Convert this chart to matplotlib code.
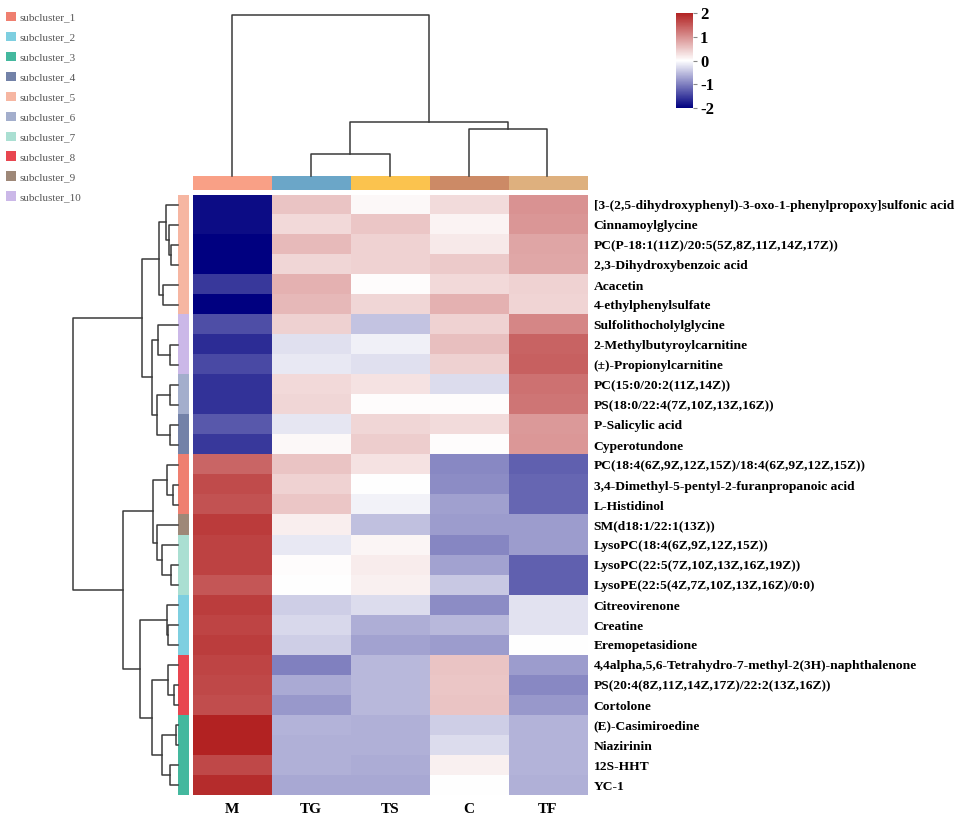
import matplotlib
matplotlib.use("Agg")
import matplotlib.pyplot as plt
import numpy as np
from matplotlib.colors import LinearSegmentedColormap, ListedColormap
from matplotlib.patches import Patch

plt.rcParams['font.family'] = ['Liberation Serif', 'DejaVu Serif']
plt.rcParams['axes.unicode_minus'] = False

# ---- data ----
groups = ['M', 'TG', 'TS', 'C', 'TF']
metabolites = [
    '[3-(2,5-dihydroxyphenyl)-3-oxo-1-phenylpropoxy]sulfonic acid',
    'Cinnamoylglycine',
    'PC(P-18:1(11Z)/20:5(5Z,8Z,11Z,14Z,17Z))',
    '2,3-Dihydroxybenzoic acid',
    'Acacetin',
    '4-ethylphenylsulfate',
    'Sulfolithocholylglycine',
    '2-Methylbutyroylcarnitine',
    '(\u00b1)-Propionylcarnitine',
    'PC(15:0/20:2(11Z,14Z))',
    'PS(18:0/22:4(7Z,10Z,13Z,16Z))',
    'P-Salicylic acid',
    'Cyperotundone',
    'PC(18:4(6Z,9Z,12Z,15Z)/18:4(6Z,9Z,12Z,15Z))',
    '3,4-Dimethyl-5-pentyl-2-furanpropanoic acid',
    'L-Histidinol',
    'SM(d18:1/22:1(13Z))',
    'LysoPC(18:4(6Z,9Z,12Z,15Z))',
    'LysoPC(22:5(7Z,10Z,13Z,16Z,19Z))',
    'LysoPE(22:5(4Z,7Z,10Z,13Z,16Z)/0:0)',
    'Citreovirenone',
    'Creatine',
    'Eremopetasidione',
    '4,4alpha,5,6-Tetrahydro-7-methyl-2(3H)-naphthalenone',
    'PS(20:4(8Z,11Z,14Z,17Z)/22:2(13Z,16Z))',
    'Cortolone',
    '(E)-Casimiroedine',
    'Niazirinin',
    '12S-HHT',
    'YC-1',
]

# scaled abundance, one list per group (same order as metabolites)
val_M = [-1.9, -1.9, -2.0, -2.0, -1.55, -2.0, -1.39, -1.65, -1.42, -1.6,
         -1.6, -1.3, -1.56, 1.38, 1.62, 1.55, 1.76, 1.7, 1.7, 1.52,
         1.74, 1.68, 1.74, 1.68, 1.65, 1.6, 2.0, 2.0, 1.65, 1.9]
val_TG = [0.53, 0.34, 0.62, 0.37, 0.7, 0.64, 0.42, -0.24, -0.18, 0.34,
          0.37, -0.2, 0.05, 0.53, 0.4, 0.5, 0.15, -0.18, 0.03, 0.01,
          -0.38, -0.3, -0.38, -1.0, -0.66, -0.8, -0.59, -0.62, -0.62, -0.68]
val_TS = [0.05, 0.5, 0.4, 0.4, 0.02, 0.36, -0.46, -0.12, -0.24, 0.25,
          0.02, 0.37, 0.45, 0.25, 0.0, -0.1, -0.5, 0.08, 0.17, 0.14,
          -0.27, -0.63, -0.72, -0.55, -0.55, -0.55, -0.62, -0.62, -0.65, -0.68]
val_C = [0.32, 0.1, 0.2, 0.47, 0.33, 0.7, 0.4, 0.57, 0.42, -0.27,
         0.02, 0.32, 0.02, -0.93, -0.9, -0.75, -0.78, -0.95, -0.72, -0.43,
         -0.9, -0.55, -0.78, 0.53, 0.5, 0.53, -0.38, -0.28, 0.14, 0.0]
val_TF = [0.97, 0.95, 0.8, 0.79, 0.4, 0.38, 1.08, 1.4, 1.43, 1.27,
          1.24, 0.92, 0.93, -1.25, -1.2, -1.2, -0.78, -0.78, -1.25, -1.25,
          -0.22, -0.22, 0.0, -0.78, -0.93, -0.8, -0.59, -0.59, -0.59, -0.62]

# subcluster of each row (1..10)
row_cluster = [5, 5, 5, 5, 5, 5, 10, 10, 10, 6, 6, 4, 4, 1, 1, 1, 9, 7, 7, 7,
               2, 2, 2, 8, 8, 8, 3, 3, 3, 3]
cluster_names = ['subcluster_%d' % i for i in range(1, 11)]
cluster_colors = ['#EF7F70', '#7ECFE0', '#44B89E', '#7382A8', '#F6B6A2',
                  '#A3AECC', '#AADFD2', '#E84650', '#9E8878', '#CBB8E8']
group_colors = ['#F9A086', '#6BA6C8', '#FBC34E', '#CC8A66', '#DEB07E']

# dendrogram merges: (child a, child b, height); leaves are 0..n-1, new nodes n, n+1, ...
row_links = [
    (2, 3, 7), (1, 30, 9), (0, 31, 12), (4, 5, 14.7), (32, 33, 18.7),
    (7, 8, 8), (6, 35, 19.7), (9, 10, 8), (11, 12, 8), (37, 38, 21.3),
    (36, 39, 26.3), (34, 40, 36.3),
    (14, 15, 4.7), (13, 42, 10.7), (18, 19, 7.3), (17, 44, 16.3), (16, 45, 21.3),
    (43, 46, 24.7), (21, 22, 9.7), (20, 48, 11.3), (24, 25, 4), (23, 50, 9.7),
    (26, 27, 2), (28, 29, 8), (52, 53, 16.3), (51, 54, 26.3), (49, 55, 38),
    (47, 56, 54.7), (41, 57, 105.3),
]
col_links = [(1, 2, 22), (3, 4, 47), (5, 6, 54), (0, 7, 160)]

data = np.array([val_M, val_TG, val_TS, val_C, val_TF]).T

W, H = 957, 822
fig = plt.figure(figsize=(W / 100, H / 100), dpi=100)


def px(x0, y0, x1, y1):
    return [x0 / W, 1 - y1 / H, (x1 - x0) / W, (y1 - y0) / H]


def draw_dendro(ax, links, n, side):
    pos = {i: float(i) for i in range(n)}
    hgt = {i: 0.0 for i in range(n)}
    for k, (a, b, h) in enumerate(links):
        p = [pos[a], pos[a], pos[b], pos[b]]
        q = [hgt[a], h, h, hgt[b]]
        if side == 'top':
            ax.plot(p, q, color='#3a3a3a', lw=1.1, clip_on=False)
        else:
            ax.plot(q, p, color='#3a3a3a', lw=1.1, clip_on=False)
        pos[n + k] = (pos[a] + pos[b]) / 2
        hgt[n + k] = h
    ax.axis('off')


cmap = LinearSegmentedColormap.from_list('bwr2', ['#000080', '#ffffff', '#B22222'])

# heatmap
ax = fig.add_axes(px(192.7, 195, 586.7, 795))
im = ax.imshow(data, cmap=cmap, vmin=-2, vmax=2, aspect='auto', interpolation='nearest')
ax.set_xticks(range(len(groups)))
ax.set_xticklabels(groups, fontsize=11, fontweight='bold')
ax.set_yticks(range(len(metabolites)))
ax.set_yticklabels(metabolites, fontsize=9.7, fontweight='bold')
ax.yaxis.tick_right()
ax.tick_params(length=0, pad=5)
ax.tick_params(axis='x', pad=6)
for s in ax.spines.values():
    s.set_visible(False)

# column color bar
axc = fig.add_axes(px(192.7, 176, 586.7, 190))
axc.imshow(np.arange(len(groups))[None, :], cmap=ListedColormap(group_colors),
           aspect='auto', interpolation='nearest')
axc.axis('off')

# row color bar
axr = fig.add_axes(px(178, 195, 189, 795))
axr.imshow(np.array(row_cluster)[:, None] - 1, cmap=ListedColormap(cluster_colors),
           vmin=0, vmax=9, aspect='auto', interpolation='nearest')
axr.axis('off')

# dendrograms
axtd = fig.add_axes(px(192.7, 15, 586.7, 176))
draw_dendro(axtd, col_links, len(groups), 'top')
axtd.set_xlim(-0.5, len(groups) - 0.5)
axtd.set_ylim(0, 160)

axld = fig.add_axes(px(72.7, 195, 178, 795))
draw_dendro(axld, row_links, len(metabolites), 'left')
axld.set_xlim(105.3, 0)
axld.set_ylim(len(metabolites) - 0.5, -0.5)

# colour scale
cax = fig.add_axes(px(676, 13, 693, 108))
cb = fig.colorbar(im, cax=cax, ticks=[-2, -1, 0, 1, 2])
cb.outline.set_visible(False)
cax.tick_params(length=3, width=0.8, color='#888888', pad=2)
for t in cax.get_yticklabels():
    t.set_fontweight('bold')
    t.set_fontsize(12)

# subcluster legend
handles = [Patch(facecolor=c, edgecolor='none') for c in cluster_colors]
fig.legend(handles, cluster_names, loc='upper left', bbox_to_anchor=(0.002, 0.991),
           frameon=False, fontsize=8, handlelength=0.9, handleheight=0.95,
           handletextpad=0.25, labelspacing=0.84, borderaxespad=0, labelcolor='#555555')

plt.savefig('out.png', dpi=100)
